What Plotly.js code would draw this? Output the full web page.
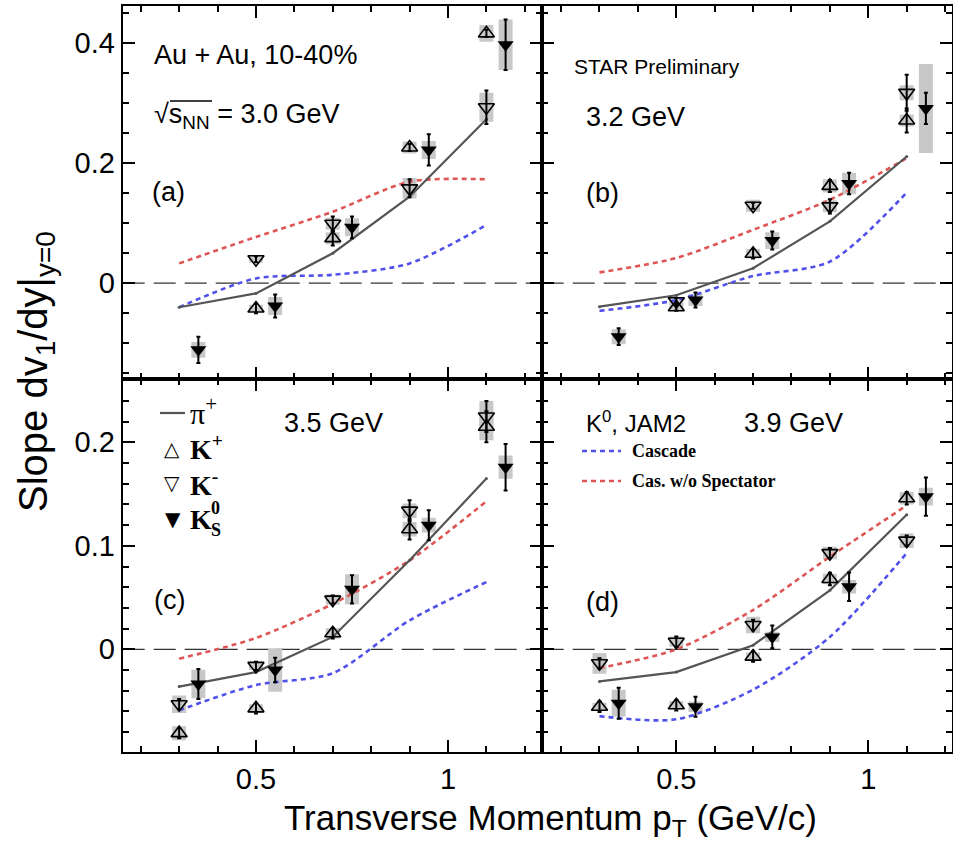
<!DOCTYPE html>
<html><head><meta charset="utf-8">
<script src="https://cdn.plot.ly/plotly-3.0.1.min.js"></script>
<style>html,body{margin:0;padding:0;background:#fff}#chart{width:953px;height:848px}</style>
</head><body><div id="chart"></div>
<script>
// ---------- data ----------
const pt = [0.3, 0.5, 0.7, 0.9, 1.1];
const ptK0 = [0.35, 0.55, 0.75, 0.95, 1.15];

// (a) 3.0 GeV
const kpA = [null, -0.042, 0.075, 0.226, 0.416];
const kpStatA = [0, 0.008, 0.012, 0.006, 0.006];
const kpSysA = [0, 0.006, 0.010, 0.010, 0.014];
const kmA = [null, 0.040, 0.099, 0.158, 0.293];
const kmStatA = [0, 0.005, 0.012, 0.015, 0.028];
const kmSysA = [0, 0.006, 0.010, 0.017, 0.024];
const k0A = [-0.111, -0.038, 0.093, 0.222, 0.397];
const k0StatA = [0.022, 0.019, 0.018, 0.026, 0.042];
const k0SysA = [0.013, 0.015, 0.015, 0.015, 0.042];
const piA = [-0.040, -0.017, 0.050, 0.144, 0.273];
const casA = [-0.040, 0.008, 0.014, 0.033, 0.097];
const nospA = [0.033, 0.077, 0.119, 0.169, 0.173];

// (b) 3.2 GeV
const kpB = [null, -0.040, 0.049, 0.162, 0.271];
const kpStatB = [0, 0.006, 0.008, 0.010, 0.020];
const kpSysB = [0, 0.006, 0.008, 0.011, 0.010];
const kmB = [null, -0.030, 0.129, 0.128, 0.317];
const kmStatB = [0, 0.006, 0.005, 0.012, 0.030];
const kmSysB = [0, 0.006, 0.010, 0.010, 0.0125];
const k0B = [-0.089, -0.028, 0.071, 0.166, 0.291];
const k0StatB = [0.014, 0.0125, 0.015, 0.018, 0.026];
const k0SysB = [0.0125, 0.010, 0.014, 0.018, 0.074];
const piB = [-0.039, -0.020, 0.025, 0.103, 0.211];
const casB = [-0.046, -0.028, 0.012, 0.036, 0.151];
const nospB = [0.018, 0.042, 0.089, 0.139, 0.208];

// (c) 3.5 GeV
const kpC = [-0.081, -0.057, 0.0155, 0.116, 0.215];
const kpStatC = [0.005, 0.005, 0.005, 0.010, 0.015];
const kpSysC = [0.0068, 0.004, 0.005, 0.007, 0.013];
const kmC = [-0.053, -0.016, 0.048, 0.134, 0.225];
const kmStatC = [0.005, 0.004, 0.004, 0.010, 0.015];
const kmSysC = [0.0084, 0.004, 0.005, 0.007, 0.015];
const k0C = [-0.0335, -0.020, 0.058, 0.120, 0.176];
const k0StatC = [0.0145, 0.0118, 0.0137, 0.0145, 0.0225];
const k0SysC = [0.0137, 0.021, 0.0145, 0.0072, 0.0113];
const piC = [-0.036, -0.022, 0.012, 0.086, 0.165];
const casC = [-0.059, -0.0345, -0.023, 0.028, 0.065];
const nospC = [-0.009, 0.011, 0.044, 0.086, 0.143];

// (d) 3.9 GeV
const kpD = [-0.0555, -0.054, -0.007, 0.068, 0.146];
const kpStatD = [0.005, 0.005, 0.005, 0.006, 0.006];
const kpSysD = [0.004, 0.004, 0.004, 0.005, 0.006];
const kmD = [-0.0135, 0.0074, 0.0235, 0.093, 0.105];
const kmStatD = [0.005, 0.005, 0.005, 0.005, 0.005];
const kmSysD = [0.010, 0.005, 0.008, 0.006, 0.007];
const k0D = [-0.052, -0.0555, 0.012, 0.0605, 0.1475];
const k0StatD = [0.015, 0.0097, 0.011, 0.0137, 0.0185];
const k0SysD = [0.013, 0.005, 0.005, 0.0065, 0.0085];
const piD = [-0.031, -0.022, 0.004, 0.057, 0.130];
const casD = [-0.0645, -0.0676, -0.039, 0.012, 0.093];
const nospD = [-0.018, 0.000, 0.038, 0.0895, 0.139];

// ---------- styling ----------
const W = 953, H = 848;
const PX = x => x / W, PY = y => 1 - y / H;
const SANS = 'Liberation Sans, Arial, Helvetica, sans-serif';
const SERIF = 'Liberation Serif, Times New Roman, serif';
const BLUE = 'rgb(80,80,235)', RED = 'rgb(222,85,85)', PIC = '#555555';

function panel(xa, ya, p) {
  const base = {type: 'scatter', xaxis: xa, yaxis: ya, showlegend: false, hoverinfo: 'skip'};
  const sys = (x, y, s) => Object.assign({}, base, {
    mode: 'markers', x: x, y: y, marker: {size: 2, opacity: 0},
    error_y: {type: 'data', array: s, visible: true, thickness: 14, width: 0, color: '#c8c8c8'}
  });
  const stat = (s) => ({type: 'data', array: s, visible: true, thickness: 2, width: 2, color: '#000'});
  return [
    sys(pt, p.kp, p.kpSys), sys(pt, p.km, p.kmSys), sys(ptK0, p.k0, p.k0Sys),
    Object.assign({}, base, {mode: 'lines', x: pt, y: p.cas,
      line: {color: BLUE, width: 2.6, dash: '5px,4px', shape: 'spline', smoothing: 0.8}}),
    Object.assign({}, base, {mode: 'lines', x: pt, y: p.nosp,
      line: {color: RED, width: 2.6, dash: '5px,4px', shape: 'spline', smoothing: 0.8}}),
    Object.assign({}, base, {mode: 'lines+markers', x: pt, y: p.pi,
      line: {color: PIC, width: 2.2}, marker: {size: 3, color: PIC}}),
    Object.assign({}, base, {mode: 'markers', x: pt, y: p.kp, error_y: stat(p.kpStat),
      marker: {symbol: 'triangle-up-open', size: 14, color: '#000', line: {width: 1.6, color: '#000'}}}),
    Object.assign({}, base, {mode: 'markers', x: pt, y: p.km, error_y: stat(p.kmStat),
      marker: {symbol: 'triangle-down-open', size: 14, color: '#000', line: {width: 1.6, color: '#000'}}}),
    Object.assign({}, base, {mode: 'markers', x: ptK0, y: p.k0, error_y: stat(p.k0Stat),
      marker: {symbol: 'triangle-down', size: 14, color: '#000', line: {width: 0}}})
  ];
}

const data = [].concat(
  panel('x', 'y', {kp: kpA, kpStat: kpStatA, kpSys: kpSysA, km: kmA, kmStat: kmStatA, kmSys: kmSysA,
    k0: k0A, k0Stat: k0StatA, k0Sys: k0SysA, pi: piA, cas: casA, nosp: nospA}),
  panel('x2', 'y2', {kp: kpB, kpStat: kpStatB, kpSys: kpSysB, km: kmB, kmStat: kmStatB, kmSys: kmSysB,
    k0: k0B, k0Stat: k0StatB, k0Sys: k0SysB, pi: piB, cas: casB, nosp: nospB}),
  panel('x3', 'y3', {kp: kpC, kpStat: kpStatC, kpSys: kpSysC, km: kmC, kmStat: kmStatC, kmSys: kmSysC,
    k0: k0C, k0Stat: k0StatC, k0Sys: k0SysC, pi: piC, cas: casC, nosp: nospC}),
  panel('x4', 'y4', {kp: kpD, kpStat: kpStatD, kpSys: kpSysD, km: kmD, kmStat: kmStatD, kmSys: kmSysD,
    k0: k0D, k0Stat: k0StatD, k0Sys: k0SysD, pi: piD, cas: casD, nosp: nospD})
);

function ax(extra, minorDtick) {
  return Object.assign({
    showline: true, linecolor: '#000', linewidth: 2, mirror: 'allticks',
    ticks: 'inside', ticklen: 12, tickwidth: 2, tickcolor: '#000',
    showgrid: false, zeroline: false, fixedrange: true,
    tickfont: {family: SANS, size: 29, color: '#000'},
    minor: {dtick: minorDtick, ticks: 'inside', ticklen: 6, tickwidth: 2, tickcolor: '#000', showgrid: false}
  }, extra);
}
const XL = [PX(122.7), PX(541.7)], XR = [PX(541.7), PX(952)];
const YT = [PY(379.3), PY(6)], YB = [PY(751.7), PY(379.3)];
const xRangeL = [0.153, 1.244], xRangeR = [0.1495, 1.218];
const yRangeT = [-0.160, 0.4616], yRangeB = [-0.0989, 0.2609];

const zero = (xr, yr) => ({type: 'line', xref: xr + ' domain', yref: yr, x0: 0, x1: 1, y0: 0, y1: 0,
  line: {color: '#333', width: 1.3, dash: '22px,9px'}, layer: 'below'});

const ann = (x, y, text, size, opts) => Object.assign({
  xref: 'paper', yref: 'paper', x: PX(x), y: PY(y), text: text, showarrow: false,
  xanchor: 'left', yanchor: 'middle', font: {family: SANS, size: size, color: '#000'}
}, opts || {});

const layout = {
  width: W, height: H, margin: {l: 0, r: 0, t: 0, b: 0},
  paper_bgcolor: '#fff', plot_bgcolor: 'rgba(0,0,0,0)', showlegend: false,
  xaxis: ax({domain: XL, range: xRangeL, anchor: 'y', dtick: 0.5, tick0: 0, showticklabels: false}, 0.1),
  yaxis: ax({domain: YT, range: yRangeT, anchor: 'x', dtick: 0.2, tick0: 0}, 0.05),
  xaxis2: ax({domain: XR, range: xRangeR, anchor: 'y2', dtick: 0.5, tick0: 0, showticklabels: false}, 0.1),
  yaxis2: ax({domain: YT, range: yRangeT, anchor: 'x2', dtick: 0.2, tick0: 0, showticklabels: false}, 0.05),
  xaxis3: ax({domain: XL, range: xRangeL, anchor: 'y3', dtick: 0.5, tick0: 0}, 0.1),
  yaxis3: ax({domain: YB, range: yRangeB, anchor: 'x3', dtick: 0.1, tick0: 0}, 0.02),
  xaxis4: ax({domain: XR, range: xRangeR, anchor: 'y4', dtick: 0.5, tick0: 0}, 0.1),
  yaxis4: ax({domain: YB, range: yRangeB, anchor: 'x4', dtick: 0.1, tick0: 0, showticklabels: false}, 0.02),
  shapes: [
    zero('x', 'y'), zero('x2', 'y2'), zero('x3', 'y3'), zero('x4', 'y4'),
    // sqrt overline
    {type: 'line', xref: 'paper', yref: 'paper', x0: PX(170), x1: PX(212), y0: PY(101), y1: PY(101), line: {color: '#000', width: 1.5}},
    // legend keys
    {type: 'line', xref: 'paper', yref: 'paper', x0: PX(160), x1: PX(185), y0: PY(413), y1: PY(413), line: {color: PIC, width: 2.2}},
    {type: 'line', xref: 'paper', yref: 'paper', x0: PX(582), x1: PX(621), y0: PY(451), y1: PY(451), line: {color: BLUE, width: 2.6, dash: '5px,4px'}},
    {type: 'line', xref: 'paper', yref: 'paper', x0: PX(582), x1: PX(621), y0: PY(481), y1: PY(481), line: {color: RED, width: 2.6, dash: '5px,4px'}}
  ],
  annotations: [
    ann(152, 55, 'Au + Au, 10-40%', 27),
    ann(152, 116, '√s<sub>NN</sub> = 3.0 GeV', 27),
    ann(150, 192, '(a)', 27),
    ann(572, 67, 'STAR Preliminary', 21),
    ann(584, 117, '3.2 GeV', 27),
    ann(584, 193, '(b)', 27),
    ann(282, 423, '3.5 GeV', 27),
    ann(152, 600, '(c)', 27),
    ann(742, 423, '3.9 GeV', 27),
    ann(584, 602, '(d)', 27),
    ann(584, 422, 'K<sup>0</sup>, JAM2', 24),
    ann(630, 451, '<b>Cascade</b>', 18, {font: {family: SERIF, size: 18, color: '#000'}}),
    ann(630, 481, '<b>Cas. w/o Spectator</b>', 18, {font: {family: SERIF, size: 18, color: '#000'}}),
    ann(188, 411, 'π<sup>+</sup>', 30, {font: {family: SERIF, size: 30, color: '#000'}}),
    ann(188, 447, '<b>K<sup>+</sup></b>', 28, {font: {family: SERIF, size: 28, color: '#000'}}),
    ann(188, 483, '<b>K<sup>-</sup></b>', 28, {font: {family: SERIF, size: 28, color: '#000'}}),
    ann(188, 519, '<b>K</b>', 28, {font: {family: SERIF, size: 28, color: '#000'}}),
    ann(209, 508, '<b>0</b>', 18, {font: {family: SERIF, size: 18, color: '#000'}}),
    ann(209, 530, '<b>S</b>', 18, {font: {family: SERIF, size: 18, color: '#000'}}),
    ann(172, 449, '△', 20, {xanchor: 'center', font: {family: 'DejaVu Sans', size: 20, color: '#000'}}),
    ann(172, 483, '▽', 20, {xanchor: 'center', font: {family: 'DejaVu Sans', size: 20, color: '#000'}}),
    ann(173, 519, '▼', 20, {xanchor: 'center', font: {family: 'DejaVu Sans', size: 20, color: '#000'}}),
    ann(550, 820, 'Transverse Momentum p<sub>T</sub> (GeV/c)', 35, {xanchor: 'center'}),
    ann(36, 372, 'Slope dv<sub>1</sub>/dy|<sub>y=0</sub>', 40, {xanchor: 'center', textangle: -90})
  ]
};

Plotly.newPlot('chart', data, layout, {staticPlot: true, displayModeBar: false});
</script>
</body></html>
